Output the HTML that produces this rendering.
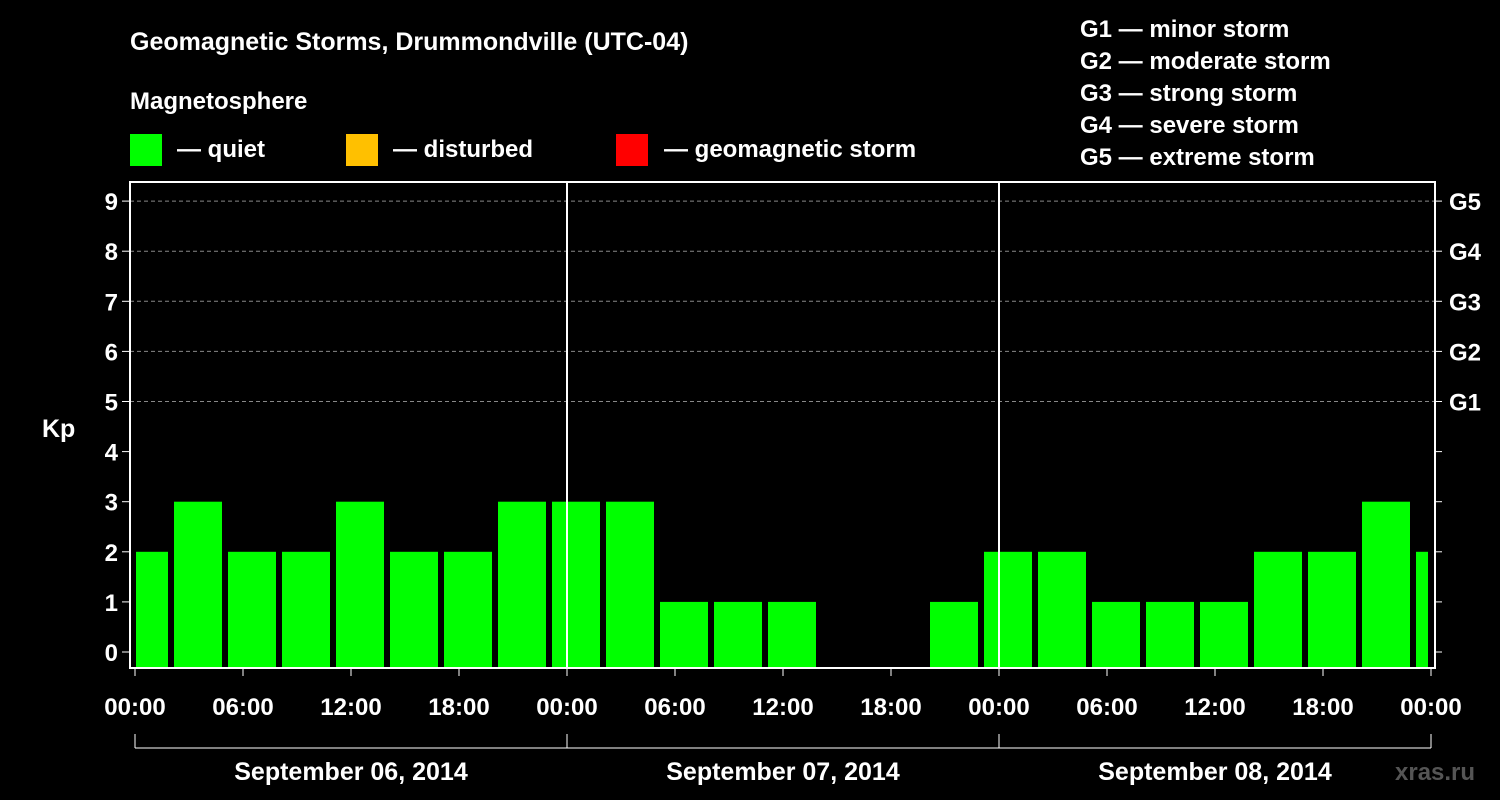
<!DOCTYPE html>
<html><head><meta charset="utf-8"><style>
body{margin:0;background:#000;}
svg{display:block;font-family:"Liberation Sans",Arial,sans-serif;font-weight:bold;}
</style></head><body>
<svg id="chart" width="1500" height="800" viewBox="0 0 1500 800" xmlns="http://www.w3.org/2000/svg">
<rect width="1500" height="800" fill="#000"/>
<text x="130" y="50" fill="#fff" font-size="25">Geomagnetic Storms, Drummondville (UTC-04)</text>
<text x="130" y="109" fill="#fff" font-size="24">Magnetosphere</text>
<g><rect x="130" y="134" width="32" height="32" fill="#00ff00"/><text x="177" y="157" fill="#fff" font-size="24">— quiet</text></g>
<g><rect x="346" y="134" width="32" height="32" fill="#ffc000"/><text x="393" y="157" fill="#fff" font-size="24">— disturbed</text></g>
<g><rect x="616" y="134" width="32" height="32" fill="#ff0000"/><text x="664" y="157" fill="#fff" font-size="24">— geomagnetic storm</text></g>
<g fill="#fff" font-size="24">
<text x="1080" y="37">G1 — minor storm</text>
<text x="1080" y="69">G2 — moderate storm</text>
<text x="1080" y="101">G3 — strong storm</text>
<text x="1080" y="133">G4 — severe storm</text>
<text x="1080" y="165">G5 — extreme storm</text>
</g>
<g id="grid"></g>
<g id="bars"></g>
<rect x="130" y="182" width="1305" height="486" fill="none" stroke="#fff" stroke-width="2"/>
<g id="axes"></g>
<text x="42" y="437" fill="#fff" font-size="25">Kp</text>
<text x="1395" y="780" fill="#555" font-size="24">xras.ru</text>
</svg>
<script>
const kpValues=[2,3,2,2,3,2,2,3,3,3,1,1,1,0,0,1,2,2,1,1,1,2,2,3,2];
const yTicks=[0,1,2,3,4,5,6,7,8,9];
const gLabels=["G1","G2","G3","G4","G5"];
const timeLabels=["00:00","06:00","12:00","18:00","00:00","06:00","12:00","18:00","00:00","06:00","12:00","18:00","00:00"];
const dayLabels=["September 06, 2014","September 07, 2014","September 08, 2014"];
const NS="http://www.w3.org/2000/svg";
const x0=135,pxPerHour=18,plotL=130,plotR=1435,plotB=668,plotT=182;
const firstSlotHour=-1;
function xH(h){return x0+h*pxPerHour;}
function yV(v){return 652-v*50.1;}
function mk(tag,attrs,parent){const e=document.createElementNS(NS,tag);for(const k in attrs)e.setAttribute(k,attrs[k]);parent.appendChild(e);return e;}
const grid=document.getElementById('grid'),bars=document.getElementById('bars'),axes=document.getElementById('axes');
for(let v=5;v<=9;v++){
  const l=mk('line',{x1:plotL,x2:plotR,y1:yV(v),y2:yV(v),stroke:'#888','stroke-dasharray':'4,3','stroke-width':1},grid);
  
  
}
kpValues.forEach((v,i)=>{
  let a=xH(firstSlotHour+i*3)+3,b=xH(firstSlotHour+i*3+3)-3;
  a=Math.max(a,136);b=Math.min(b,1428);
  const top=v>0?yV(v):plotB;
  const r=mk('rect',{x:a,y:top,width:b-a,height:plotB-top,fill:v>=5?'#ff0000':(v>=4?'#ffc000':'#00ff00')},bars);
  
  
});
yTicks.forEach(v=>{
  const t=mk('text',{x:118,y:yV(v)+9,fill:'#fff','font-size':24,'text-anchor':'end'},axes);t.textContent=v;
  
  
  mk('line',{x1:122,x2:130,y1:yV(v),y2:yV(v),stroke:'#fff','stroke-width':1},axes);
  mk('line',{x1:1435,x2:1442,y1:yV(v),y2:yV(v),stroke:'#fff','stroke-width':1},axes);
});
gLabels.forEach((g,i)=>{
  const t=mk('text',{x:1449,y:yV(5+i)+9,fill:'#fff','font-size':24},axes);t.textContent=g;
  
  
});
timeLabels.forEach((s,i)=>{
  const x=xH(i*6);
  mk('line',{x1:x,x2:x,y1:plotB,y2:plotB+8,stroke:'#fff','stroke-width':1},axes);
  const t=mk('text',{x:x,y:715,fill:'#fff','font-size':24,'text-anchor':'middle'},axes);t.textContent=s;
  
  
});
for(let d=1;d<dayLabels.length;d++){
  const x=xH(d*24);
  const l=mk('line',{x1:x,x2:x,y1:plotT,y2:plotB,stroke:'#fff','stroke-width':2},axes);
  
  
}
mk('line',{x1:xH(0),x2:xH(72),y1:748,y2:748,stroke:'#fff','stroke-width':1},axes);
for(let d=0;d<=dayLabels.length;d++){const x=xH(d*24);mk('line',{x1:x,x2:x,y1:734,y2:748,stroke:'#fff','stroke-width':1},axes);}
dayLabels.forEach((s,i)=>{
  const t=mk('text',{x:xH(i*24+12),y:780,fill:'#fff','font-size':25,'text-anchor':'middle'},axes);t.textContent=s;
  
  
});
</script>
</body></html>
